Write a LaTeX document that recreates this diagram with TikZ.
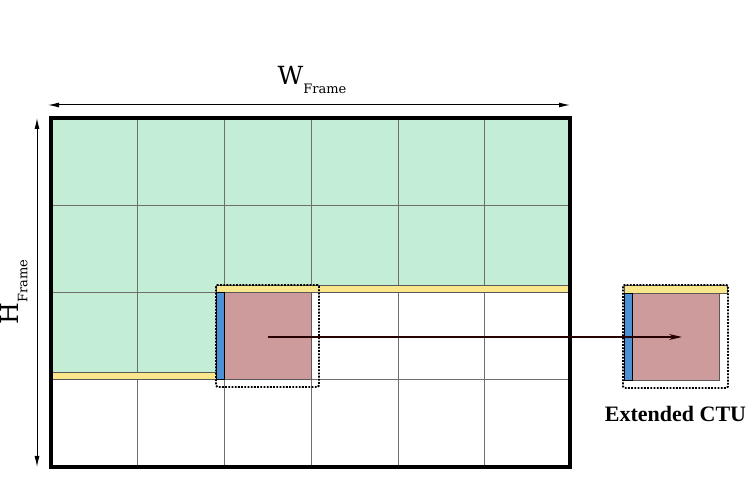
\documentclass[tikz,border=0pt]{standalone}
\usepackage{fontspec}
\setmainfont{Liberation Serif}
\newfontfamily\dimfont{DejaVu Serif}
\usetikzlibrary{arrows.meta,positioning}
\definecolor{CodedGreen}{RGB}{196,237,213}
\definecolor{RefYellow}{RGB}{250,231,140}
\definecolor{RefBlue}{RGB}{76,144,214}
\definecolor{CtuRed}{RGB}{205,155,155}
\definecolor{GridGray}{RGB}{110,110,110}
\tikzset{
  strip/.style={draw=GridGray!80!black,line width=0.6pt},
  ctubox/.style={draw=black,line width=1.8pt,dash pattern=on 1.8pt off 1.4pt,rounded corners=1.5pt},
  dimarrow/.style={{Latex[length=11pt,width=5pt]}-{Latex[length=11pt,width=5pt]},line width=1pt}
}

\begin{document}
\begin{tikzpicture}[x=1pt,y=-1pt,>=Latex]
      \useasboundingbox (0,0) rectangle (748,494);
      % frame corners
      \coordinate (fNW) at (51,118);
      \coordinate (fSE) at (570,467);
      % already coded area
      \fill[CodedGreen] (51,118) rectangle (570,285);
      \fill[CodedGreen] (51,285) rectangle (216,372);
      % grid of CTUs
      \foreach \x in {137.5,224.5,311,398,484.5}
        \draw[GridGray,line width=0.6pt] (\x,118) -- (\x,467);
      \foreach \y in {205,292.5,379}
        \draw[GridGray,line width=0.6pt] (51,\y) -- (570,\y);
      % reference rows and column
      \filldraw[strip,fill=RefYellow] (216,285) rectangle (570,292.5);
      \filldraw[strip,fill=RefYellow] (51,372) rectangle (216,379);
      \filldraw[strip,fill=CtuRed] (224.5,292.5) rectangle (311,379);
      \filldraw[fill=RefBlue,draw=black,line width=0.8pt] (216,292.5) rectangle (224.5,379);
      \draw[line width=3.4pt] (fNW) rectangle (fSE);
      \draw[ctubox] (216,285) rectangle (319,387);
      % extended CTU
      \filldraw[strip,fill=RefYellow] (624,285.5) rectangle (727,293);
      \filldraw[strip,fill=CtuRed] (632,293) rectangle (719,380);
      \filldraw[fill=RefBlue,draw=black,line width=0.8pt] (624,293) rectangle (632,380);
      \draw[ctubox] (623,285) rectangle (728,388);
      \node[font=\bfseries\fontsize{22}{26}\selectfont] (extlabel) at (675.5,414) {Extended CTU};
      % copy arrow
      \coordinate (cur) at (268,337);
      \coordinate (ext) at (682,337);
      \draw[-{Stealth[length=13pt,width=6pt]},line width=1.3pt,black!85!red] (cur) -- (ext);
      % dimensions
      \coordinate (wL) at (48,105);
      \coordinate (wR) at (570,105);
      \draw[dimarrow] (wL) -- (wR);
      \node[font=\dimfont\fontsize{25}{28}\selectfont] (wlabel) at (312,80)
        {W\raisebox{-0.35em}{\fontsize{13}{15}\selectfont Frame}};
      \coordinate (hT) at (37,118);
      \coordinate (hB) at (37,467);
      \draw[dimarrow] (hT) -- (hB);
      \node[font=\dimfont\fontsize{25}{28}\selectfont,rotate=90] (hlabel) at (14,292)
        {H\raisebox{-0.35em}{\fontsize{13}{15}\selectfont Frame}};
    \end{tikzpicture}
\end{document}
